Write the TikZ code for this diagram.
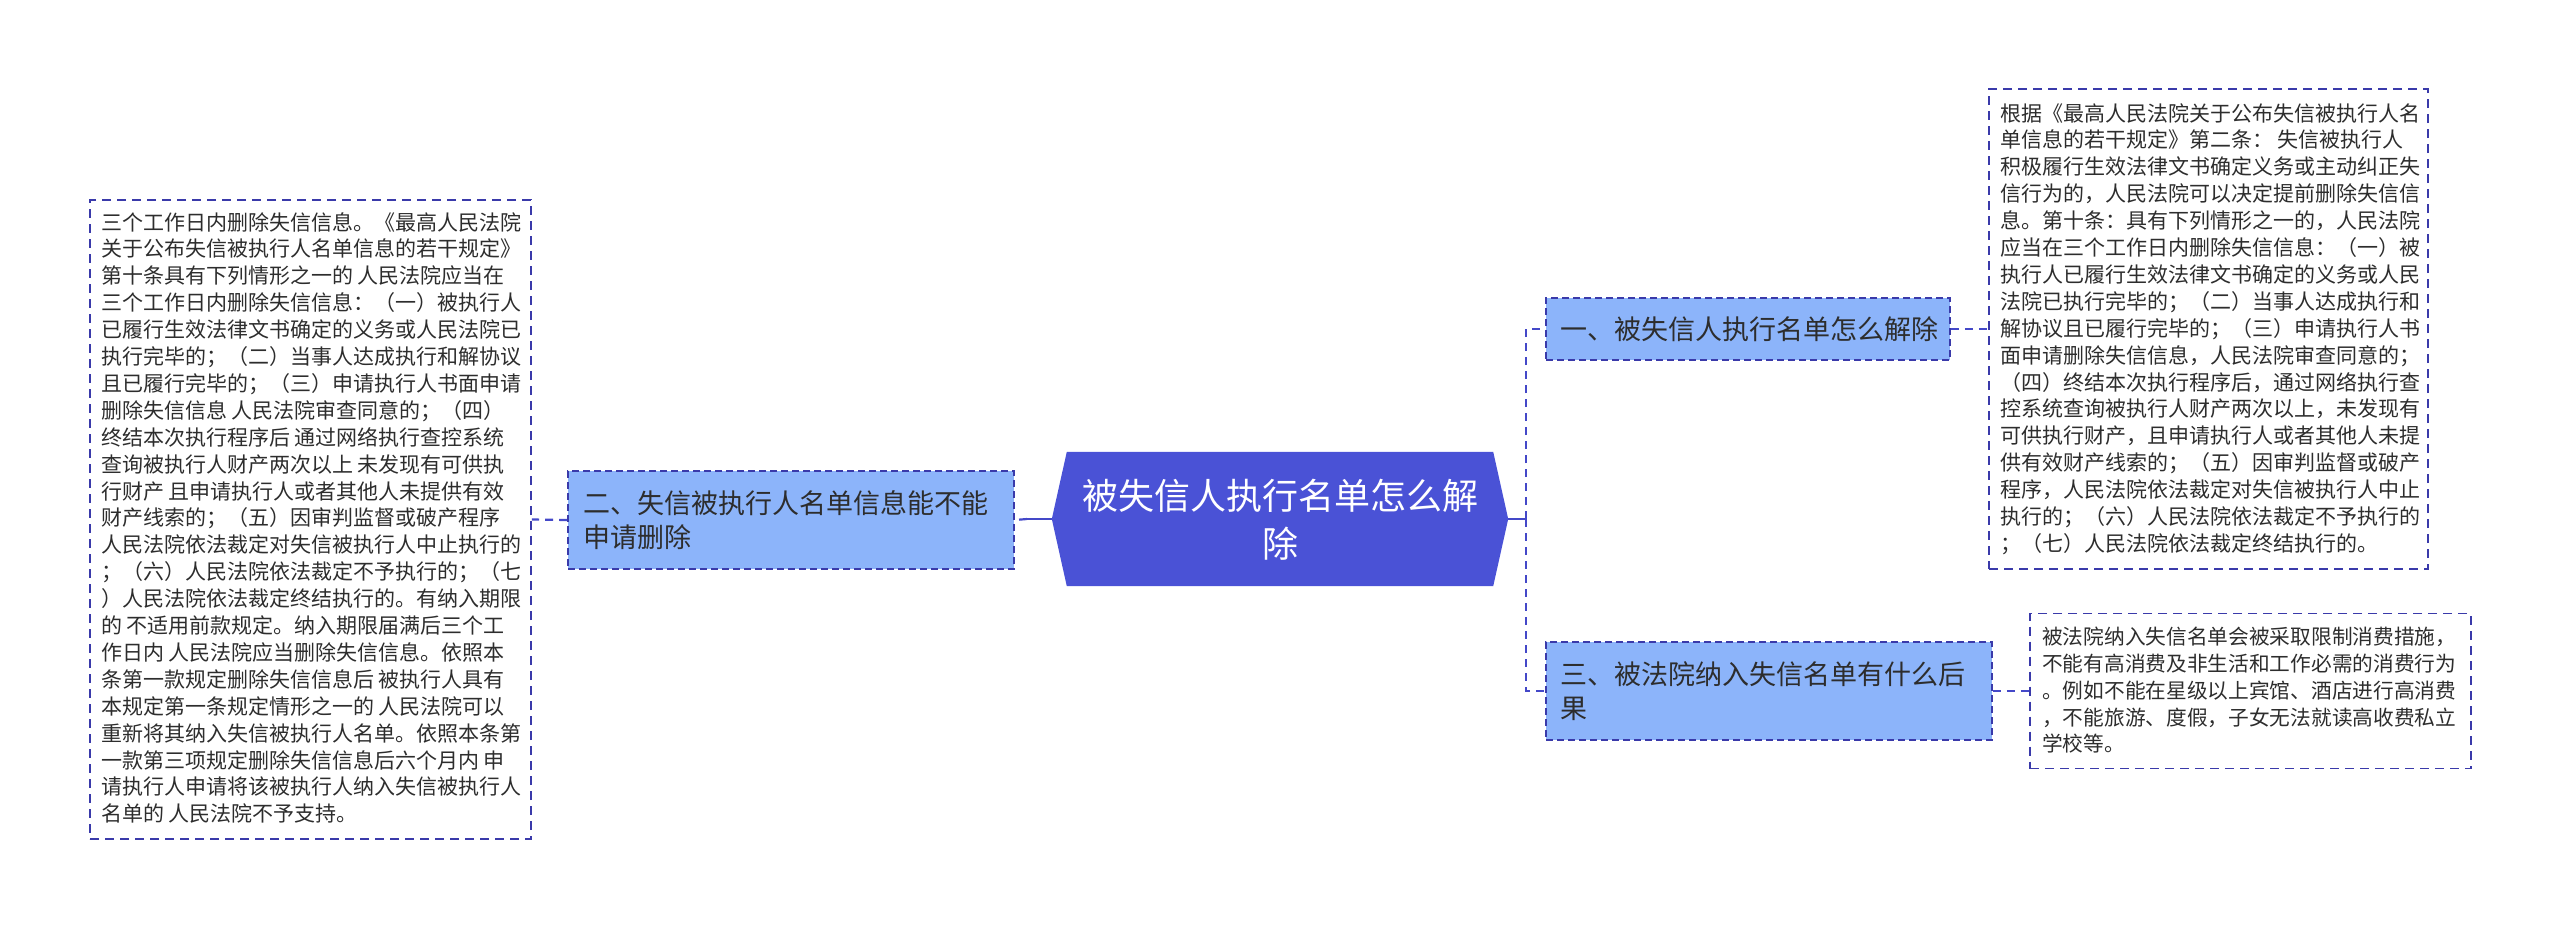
\documentclass[tikz,border=0pt]{standalone}
\usepackage{fontspec}
\setmainfont{Noto Sans CJK SC}
\definecolor{hexblue}{RGB}{74,82,214}
\definecolor{nodeblue}{RGB}{140,180,250}
\definecolor{bordc}{RGB}{58,58,170}
\definecolor{linec}{RGB}{68,72,200}
\definecolor{txtc}{RGB}{45,45,45}
\tikzset{
  nbox/.style={draw=bordc, dash pattern=on 7pt off 4pt, line width=1.6pt, fill=nodeblue,
    text=txtc, align=left, inner xsep=14pt, inner ysep=0pt, font=\fontsize{27}{34}\selectfont},
  tbox/.style={draw=bordc, dash pattern=on 9pt off 6pt, line width=1.6pt, inner sep=0pt},
  txt/.style={text=txtc, align=left, inner sep=0pt, anchor=north west, font=\fontsize{21}{26.9}\selectfont},
  sconn/.style={draw=linec, line width=2.6pt},
  dconn/.style={draw=linec, line width=2.2pt, dash pattern=on 8pt off 6pt},
}
\begin{document}
\begin{tikzpicture}[x=1pt,y=-1pt]
\useasboundingbox (0,0) rectangle (2560,929);
% central hexagon
\node[minimum width=426pt, minimum height=134pt, inner sep=0pt] (C) at (1280,519) {};
\fill[hexblue] (C.north west) -- (C.north east) -- ([xshift=15pt]C.east) -- (C.south east)
  -- (C.south west) -- ([xshift=-15pt]C.west) -- cycle;
\coordinate (Cl) at ([xshift=-15pt]C.west);
\coordinate (Cr) at ([xshift=15pt]C.east);
\node[text=white, align=center, inner sep=0pt, font=\fontsize{36}{48}\selectfont] (Ct) at (1280,520)
  {被失信人执行名单怎么解\\除};
% branch nodes
\node[nbox, minimum width=404pt, minimum height=62pt, text width=376pt] (N1) at (1748,329)
  {一、被失信人执行名单怎么解除};
\node[nbox, minimum width=446pt, minimum height=98pt, text width=416pt, inner xsep=15pt] (N2) at (791,520)
  {二、失信被执行人名单信息能不能\\申请删除};
\node[nbox, minimum width=446pt, minimum height=98pt, text width=418pt] (N3) at (1769,691)
  {三、被法院纳入失信名单有什么后\\果};
% text boxes
\node[tbox, minimum width=441pt, minimum height=639pt] (L) at (310.5,519.5) {};
\node[txt] (Lt) at (101,212) {三个工作日内删除失信信息。《最高人民法院\\
关于公布失信被执行人名单信息的若干规定》\\
第十条具有下列情形之一的 人民法院应当在\\
三个工作日内删除失信信息：（一）被执行人\\
已履行生效法律文书确定的义务或人民法院已\\
执行完毕的；（二）当事人达成执行和解协议\\
且已履行完毕的；（三）申请执行人书面申请\\
删除失信信息 人民法院审查同意的；（四）\\
终结本次执行程序后 通过网络执行查控系统\\
查询被执行人财产两次以上 未发现有可供执\\
行财产 且申请执行人或者其他人未提供有效\\
财产线索的；（五）因审判监督或破产程序\\
人民法院依法裁定对失信被执行人中止执行的\\
；（六）人民法院依法裁定不予执行的；（七\\
）人民法院依法裁定终结执行的。有纳入期限\\
的 不适用前款规定。纳入期限届满后三个工\\
作日内 人民法院应当删除失信信息。依照本\\
条第一款规定删除失信信息后 被执行人具有\\
本规定第一条规定情形之一的 人民法院可以\\
重新将其纳入失信被执行人名单。依照本条第\\
一款第三项规定删除失信信息后六个月内 申\\
请执行人申请将该被执行人纳入失信被执行人\\
名单的 人民法院不予支持。};
\node[tbox, minimum width=439pt, minimum height=480pt] (RT) at (2208.5,329) {};
\node[txt] (RTt) at (2000,103) {根据《最高人民法院关于公布失信被执行人名\\
单信息的若干规定》第二条： 失信被执行人\\
积极履行生效法律文书确定义务或主动纠正失\\
信行为的，人民法院可以决定提前删除失信信\\
息。第十条：具有下列情形之一的，人民法院\\
应当在三个工作日内删除失信信息：（一）被\\
执行人已履行生效法律文书确定的义务或人民\\
法院已执行完毕的；（二）当事人达成执行和\\
解协议且已履行完毕的；（三）申请执行人书\\
面申请删除失信信息，人民法院审查同意的；\\
（四）终结本次执行程序后，通过网络执行查\\
控系统查询被执行人财产两次以上，未发现有\\
可供执行财产，且申请执行人或者其他人未提\\
供有效财产线索的；（五）因审判监督或破产\\
程序，人民法院依法裁定对失信被执行人中止\\
执行的；（六）人民法院依法裁定不予执行的\\
；（七）人民法院依法裁定终结执行的。};
\node[tbox, minimum width=441pt, minimum height=155pt] (RB) at (2250.5,691) {};
\node[txt, font=\fontsize{20.7}{26.8}\selectfont] (RBt) at (2042,627) {被法院纳入失信名单会被采取限制消费措施，\\
不能有高消费及非生活和工作必需的消费行为\\
。例如不能在星级以上宾馆、酒店进行高消费\\
，不能旅游、度假，子女无法就读高收费私立\\
学校等。};
% connectors
\coordinate (Jl) at (1027,519);
\coordinate (Jr) at (1526,519);
\draw[sconn] (Cl) -- (Jl);
\draw[dconn] (Jl) -- (N2.east);
\draw[dconn] (N2.west) -- (L.east);
\draw[sconn] (Cr) -- (Jr);
\draw[dconn] (Jr) |- (N1.west);
\draw[dconn] (Jr) |- (N3.west);
\draw[dconn] (N1.east) -- (RT.west);
\draw[dconn] (N3.east) -- (RB.west);
\end{tikzpicture}
\end{document}
